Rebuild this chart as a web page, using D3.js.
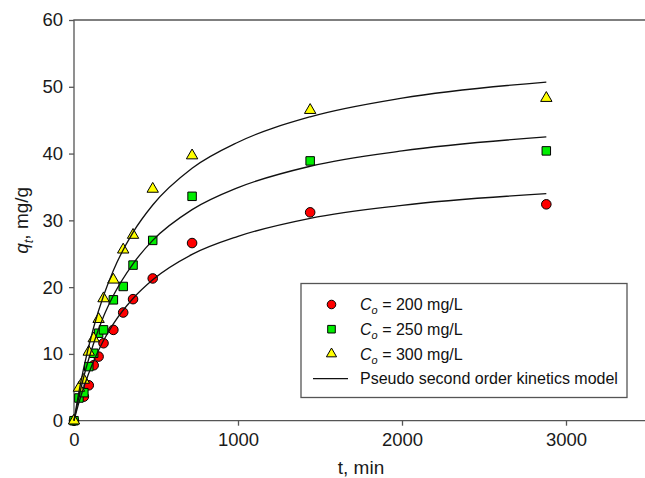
<!DOCTYPE html>
<html>
<head>
<meta charset="utf-8">
<script src="https://cdn.jsdelivr.net/npm/d3@7"></script>
<style>
  body { margin: 0; background: #fff; }
  svg { display: block; font-family: "Liberation Sans", Arial, sans-serif; }
</style>
</head>
<body>
<svg id="chart" width="645" height="478"></svg>
<script>
const t200 = [0, 60, 90, 120, 150, 180, 240, 300, 360, 480, 720, 1440, 2880]
const q200 = [0, 3.6, 5.3, 8.3, 9.6, 11.6, 13.6, 16.2, 18.2, 21.3, 26.6, 31.2, 32.4]

const t250 = [0, 30, 60, 90, 120, 150, 180, 240, 300, 360, 480, 720, 1440, 2880]
const q250 = [0, 3.4, 4.2, 8.1, 10.1, 13.1, 13.6, 18.1, 20.1, 23.3, 27.0, 33.6, 38.9, 40.4]

const t300 = [0, 30, 60, 90, 120, 150, 180, 240, 300, 360, 480, 720, 1440, 2880]
const q300 = [0, 4.9, 6.1, 10.3, 12.3, 15.2, 18.3, 21.1, 25.6, 27.8, 34.7, 39.7, 46.5, 48.3]

// model curves, values
const tFit = [0, 30, 60, 120, 180, 240, 360, 480, 720, 1000, 1440, 2000, 2880]
const fit200 = [0, 2.7, 5.05, 8.93, 12.0, 14.5, 18.3, 21.1, 24.9, 27.6, 30.3, 32.25, 34.0]
const fit250 = [0, 3.56, 6.62, 11.6, 15.6, 18.75, 23.5, 27.0, 31.6, 34.9, 38.1, 40.4, 42.5]
const fit300 = [0, 4.3, 7.97, 14.0, 18.7, 22.5, 28.2, 32.3, 37.8, 41.7, 45.5, 48.3, 50.7]

const xTicks = [0, 1000, 2000, 3000]
const yTicks = [0, 10, 20, 30, 40, 50, 60]
const concs = ["200", "250", "300"]

const svg = d3.select("#chart")

x = d3.scaleLinear().domain([0, 3500]).range([74, 648])
y = d3.scaleLinear().domain([0, 60]).range([420.7, 20])

// frame (right side runs off the picture)
svg.append("path")
  .attr("d", `M${x(3500)},${y(60)}H${x(0)}V${y(0)}H${x(3500)}`)
  .attr("fill", "none")
  .attr("stroke", "#555")
  .attr("stroke-width", 1.3)

xAxis = g => g
  .attr("transform", `translate(0,${y(0)})`)
  .call(d3.axisBottom(x).tickValues(xTicks).tickSize(5).tickPadding(7).tickFormat(d3.format("d")))
  .call(g => g.select(".domain").remove())
  .call(g => g.selectAll("line").attr("stroke", "#555").attr("stroke-width", 1.3))
  .call(g => g.selectAll("text").attr("font-size", 18.5).attr("fill", "#1a1a1a")
    .attr("font-family", "Liberation Sans, Arial, sans-serif"))

yAxis = g => g
  .attr("transform", `translate(${x(0)},0)`)
  .call(d3.axisLeft(y).tickValues(yTicks).tickSize(5).tickPadding(6))
  .call(g => g.select(".domain").remove())
  .call(g => g.selectAll("line").attr("stroke", "#555").attr("stroke-width", 1.3))
  .call(g => g.selectAll("text").attr("font-size", 18.5).attr("fill", "#1a1a1a")
    .attr("font-family", "Liberation Sans, Arial, sans-serif"))

svg.append("g").call(xAxis)
svg.append("g").call(yAxis)

// axis titles
svg.append("text")
  .attr("x", (x(0) + x(3500)) / 2)
  .attr("y", 474)
  .attr("text-anchor", "middle")
  .attr("font-size", 19)
  .attr("fill", "#1a1a1a")
  .text("t, min")

const yl = svg.append("text")
  .attr("transform", `translate(28,${(y(0) + y(60)) / 2}) rotate(-90)`)
  .attr("text-anchor", "middle")
  .attr("font-size", 19)
  .attr("fill", "#1a1a1a")
yl.append("tspan").attr("font-style", "italic").text("q")
yl.append("tspan").attr("font-style", "italic").attr("font-size", 13).attr("dy", 5).text("t")
yl.append("tspan").attr("dy", -5).text(", mg/g")

// series
const series = [
  {key: "200", t: t200, q: q200, fit: fit200, fill: "#ff0000", shape: d3.symbolCircle, size: 72},
  {key: "250", t: t250, q: q250, fit: fit250, fill: "#00ee00", shape: d3.symbolSquare, size: 72},
  {key: "300", t: t300, q: q300, fit: fit300, fill: "#ffff00", shape: d3.symbolTriangle, size: 56}
]

series.forEach(s => {
  svg.append("g")
    .selectAll("path")
    .data(s.t.map((t, i) => [t, s.q[i]]))
    .join("path")
    .attr("transform", d => `translate(${x(d[0])},${y(d[1])})`)
    .attr("d", d3.symbol().type(s.shape).size(s.size))
    .attr("fill", s.fill)
    .attr("stroke", "#000")
    .attr("stroke-width", 1)
})

line = d3.line()
  .x(d => x(d[0]))
  .y(d => y(d[1]))
  .curve(d3.curveMonotoneX)

series.forEach(s => {
  svg.append("path")
    .datum(tFit.map((t, i) => [t, s.fit[i]]))
    .attr("d", line)
    .attr("fill", "none")
    .attr("stroke", "#111")
    .attr("stroke-width", 1.3)
})

// legend
legend = g => {
  g.append("rect")
    .attr("x", 301).attr("y", 283.5)
    .attr("width", 326).attr("height", 114)
    .attr("fill", "#fff")
    .attr("stroke", "#555")
    .attr("stroke-width", 1.3)

  const rows = g.selectAll("g.row")
    .data(series)
    .join("g")
    .attr("class", "row")
    .attr("transform", (d, i) => `translate(0,${304.5 + i * 24.7})`)

  rows.append("path")
    .attr("transform", "translate(331.5,0)")
    .attr("d", d => d3.symbol().type(d.shape).size(d.size * 0.8)())
    .attr("fill", d => d.fill)
    .attr("stroke", "#000")
    .attr("stroke-width", 1)

  const txt = rows.append("text")
    .attr("x", 360)
    .attr("dy", "0.35em")
    .attr("font-size", 16)
    .attr("fill", "#111")
  txt.append("tspan").attr("font-style", "italic").text("C")
  txt.append("tspan").attr("font-style", "italic").attr("font-size", 11).attr("dy", 4).text("o")
  txt.append("tspan").attr("dy", -4).text(d => ` = ${d.key} mg/L`)

  const ly = 304.5 + 3 * 24.7
  g.append("line")
    .attr("x1", 313).attr("x2", 348)
    .attr("y1", ly).attr("y2", ly)
    .attr("stroke", "#111")
    .attr("stroke-width", 1.2)
  g.append("text")
    .attr("x", 360).attr("y", ly)
    .attr("dy", "0.35em")
    .attr("font-size", 16)
    .attr("fill", "#111")
    .text("Pseudo second order kinetics model")
}

svg.append("g").call(legend)
</script>
</body>
</html>
